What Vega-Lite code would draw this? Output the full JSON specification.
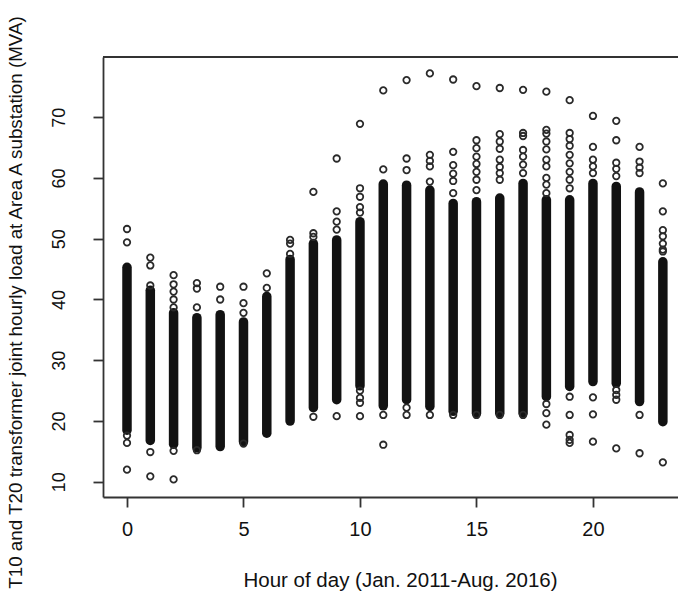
{
  "$schema": "https://vega.github.io/schema/vega-lite/v6.json",
  "autosize": "none",
  "width": 575,
  "height": 440,
  "padding": {"left": 103, "top": 57, "right": 0, "bottom": 104},
  "background": "white",
  "view": {"stroke": null},
  "config": {
    "font": "Liberation Sans",
    "axis": {"grid": false, "labelColor": "#111", "titleColor": "#111", "labelFont": "Liberation Sans", "titleFont": "Liberation Sans", "titleFontWeight": "normal", "domainColor": "#333", "domainWidth": 1.8, "tickColor": "#333", "tickWidth": 1.8}
  },
  "datasets": {
    "cores": [
      {"hour": 0, "lo": 18.5, "hi": 45.3},
      {"hour": 1, "lo": 16.8, "hi": 41.5},
      {"hour": 2, "lo": 16.2, "hi": 37.8},
      {"hour": 3, "lo": 15.6, "hi": 37.0},
      {"hour": 4, "lo": 15.8, "hi": 37.5},
      {"hour": 5, "lo": 16.6, "hi": 36.3},
      {"hour": 6, "lo": 18.0, "hi": 40.5},
      {"hour": 7, "lo": 20.0, "hi": 46.6},
      {"hour": 8, "lo": 22.2, "hi": 49.2},
      {"hour": 9, "lo": 23.5, "hi": 49.8},
      {"hour": 10, "lo": 25.8, "hi": 52.8},
      {"hour": 11, "lo": 22.5, "hi": 59.0},
      {"hour": 12, "lo": 23.5, "hi": 58.8},
      {"hour": 13, "lo": 22.4, "hi": 58.0},
      {"hour": 14, "lo": 21.6, "hi": 55.8},
      {"hour": 15, "lo": 21.3, "hi": 56.1},
      {"hour": 16, "lo": 21.3, "hi": 56.7},
      {"hour": 17, "lo": 21.3, "hi": 59.1},
      {"hour": 18, "lo": 24.0, "hi": 56.4},
      {"hour": 19, "lo": 25.7, "hi": 56.4},
      {"hour": 20, "lo": 26.5, "hi": 59.1},
      {"hour": 21, "lo": 26.2, "hi": 58.6},
      {"hour": 22, "lo": 23.2, "hi": 57.7},
      {"hour": 23, "lo": 19.9, "hi": 46.2}
    ],
    "pts": [
      {"hour": 0, "load": 51.6}, {"hour": 0, "load": 49.4}, {"hour": 0, "load": 17.6}, {"hour": 0, "load": 16.4}, {"hour": 0, "load": 12.0},
      {"hour": 1, "load": 46.9}, {"hour": 1, "load": 45.6}, {"hour": 1, "load": 42.3}, {"hour": 1, "load": 14.9}, {"hour": 1, "load": 10.9},
      {"hour": 2, "load": 44.0}, {"hour": 2, "load": 42.5}, {"hour": 2, "load": 41.3}, {"hour": 2, "load": 40.0}, {"hour": 2, "load": 38.7}, {"hour": 2, "load": 15.1}, {"hour": 2, "load": 10.4},
      {"hour": 3, "load": 42.7}, {"hour": 3, "load": 41.8}, {"hour": 3, "load": 38.7}, {"hour": 3, "load": 15.2},
      {"hour": 4, "load": 42.1}, {"hour": 4, "load": 40.0},
      {"hour": 5, "load": 42.1}, {"hour": 5, "load": 39.4}, {"hour": 5, "load": 37.8}, {"hour": 5, "load": 16.3},
      {"hour": 6, "load": 44.3}, {"hour": 6, "load": 41.9},
      {"hour": 7, "load": 49.8}, {"hour": 7, "load": 49.2}, {"hour": 7, "load": 47.5},
      {"hour": 8, "load": 57.7}, {"hour": 8, "load": 50.9}, {"hour": 8, "load": 50.3}, {"hour": 8, "load": 20.7},
      {"hour": 9, "load": 63.2}, {"hour": 9, "load": 54.5}, {"hour": 9, "load": 52.8}, {"hour": 9, "load": 51.5}, {"hour": 9, "load": 20.8},
      {"hour": 10, "load": 68.9}, {"hour": 10, "load": 58.3}, {"hour": 10, "load": 56.9}, {"hour": 10, "load": 55.2}, {"hour": 10, "load": 54.3}, {"hour": 10, "load": 25.0}, {"hour": 10, "load": 23.8}, {"hour": 10, "load": 23.0}, {"hour": 10, "load": 20.8},
      {"hour": 11, "load": 74.4}, {"hour": 11, "load": 61.4}, {"hour": 11, "load": 21.0}, {"hour": 11, "load": 16.1},
      {"hour": 12, "load": 76.1}, {"hour": 12, "load": 63.2}, {"hour": 12, "load": 61.3}, {"hour": 12, "load": 22.2}, {"hour": 12, "load": 21.0},
      {"hour": 13, "load": 77.2}, {"hour": 13, "load": 63.8}, {"hour": 13, "load": 62.8}, {"hour": 13, "load": 61.9}, {"hour": 13, "load": 59.4}, {"hour": 13, "load": 21.0},
      {"hour": 14, "load": 76.2}, {"hour": 14, "load": 64.3}, {"hour": 14, "load": 62.1}, {"hour": 14, "load": 60.7}, {"hour": 14, "load": 59.5}, {"hour": 14, "load": 57.5}, {"hour": 14, "load": 21.0},
      {"hour": 15, "load": 75.1}, {"hour": 15, "load": 66.2}, {"hour": 15, "load": 64.9}, {"hour": 15, "load": 63.5}, {"hour": 15, "load": 62.3}, {"hour": 15, "load": 61.0}, {"hour": 15, "load": 59.7}, {"hour": 15, "load": 58.0}, {"hour": 15, "load": 21.0},
      {"hour": 16, "load": 74.8}, {"hour": 16, "load": 67.2}, {"hour": 16, "load": 66.0}, {"hour": 16, "load": 64.8}, {"hour": 16, "load": 63.0}, {"hour": 16, "load": 61.8}, {"hour": 16, "load": 60.8}, {"hour": 16, "load": 59.7}, {"hour": 16, "load": 21.0},
      {"hour": 17, "load": 74.5}, {"hour": 17, "load": 67.4}, {"hour": 17, "load": 66.9}, {"hour": 17, "load": 64.6}, {"hour": 17, "load": 63.5}, {"hour": 17, "load": 62.2}, {"hour": 17, "load": 60.8}, {"hour": 17, "load": 21.0},
      {"hour": 18, "load": 74.2}, {"hour": 18, "load": 67.9}, {"hour": 18, "load": 67.3}, {"hour": 18, "load": 66.0}, {"hour": 18, "load": 64.7}, {"hour": 18, "load": 63.0}, {"hour": 18, "load": 61.9}, {"hour": 18, "load": 60.0}, {"hour": 18, "load": 58.9}, {"hour": 18, "load": 57.5}, {"hour": 18, "load": 22.8}, {"hour": 18, "load": 21.3}, {"hour": 18, "load": 19.4},
      {"hour": 19, "load": 72.8}, {"hour": 19, "load": 67.4}, {"hour": 19, "load": 66.4}, {"hour": 19, "load": 65.3}, {"hour": 19, "load": 63.8}, {"hour": 19, "load": 62.4}, {"hour": 19, "load": 61.0}, {"hour": 19, "load": 59.7}, {"hour": 19, "load": 58.3}, {"hour": 19, "load": 24.0}, {"hour": 19, "load": 21.0}, {"hour": 19, "load": 17.7}, {"hour": 19, "load": 16.9}, {"hour": 19, "load": 16.4},
      {"hour": 20, "load": 70.2}, {"hour": 20, "load": 65.1}, {"hour": 20, "load": 63.0}, {"hour": 20, "load": 61.9}, {"hour": 20, "load": 60.8}, {"hour": 20, "load": 23.9}, {"hour": 20, "load": 21.1}, {"hour": 20, "load": 16.6},
      {"hour": 21, "load": 69.4}, {"hour": 21, "load": 66.2}, {"hour": 21, "load": 62.5}, {"hour": 21, "load": 61.5}, {"hour": 21, "load": 60.3}, {"hour": 21, "load": 25.1}, {"hour": 21, "load": 24.3}, {"hour": 21, "load": 23.5}, {"hour": 21, "load": 15.5},
      {"hour": 22, "load": 65.1}, {"hour": 22, "load": 62.7}, {"hour": 22, "load": 61.7}, {"hour": 22, "load": 60.8}, {"hour": 22, "load": 21.0}, {"hour": 22, "load": 14.7},
      {"hour": 23, "load": 59.1}, {"hour": 23, "load": 54.5}, {"hour": 23, "load": 51.4}, {"hour": 23, "load": 50.4}, {"hour": 23, "load": 49.2}, {"hour": 23, "load": 48.2}, {"hour": 23, "load": 47.9}, {"hour": 23, "load": 13.2}
    ],
    "frame": [{"top": 79.9}]
  },
  "layer": [
    {
      "data": {"name": "cores"},
      "mark": {"type": "rule", "strokeWidth": 9.5, "strokeCap": "round", "color": "#121212"},
      "encoding": {
        "x": {"field": "hour", "type": "quantitative", "scale": {"domain": [-1.03, 23.65], "nice": false, "zero": false},
          "axis": {"values": [0, 5, 10, 15, 20], "title": "Hour of day (Jan. 2011-Aug. 2016)", "labelFontSize": 20, "titleFontSize": 20.5, "tickSize": 10, "labelPadding": 12, "titleX": 297, "titleY": 83, "titleBaseline": "middle", "titleAnchor": null, "titleAlign": "center", "domain": true}},
        "y": {"field": "lo", "type": "quantitative", "scale": {"domain": [7.5, 79.9], "nice": false, "zero": false},
          "axis": {"values": [10, 20, 30, 40, 50, 60, 70], "title": "T10 and T20 transformer joint hourly load at Area A substation (MVA)", "labelFontSize": 18, "titleFontSize": 18.8, "tickSize": 10, "labelPadding": 25, "labelAngle": 270, "labelAlign": "center", "labelBaseline": "bottom", "titleAngle": 270, "titleX": -88, "titleY": 245, "titleBaseline": "middle", "titleAlign": "center", "titleAnchor": null, "domain": true}},
        "y2": {"field": "hi"}
      }
    },
    {
      "data": {"name": "pts"},
      "mark": {"type": "point", "shape": "circle", "filled": false, "size": 42, "strokeWidth": 1.8, "color": "#2a2a2a", "opacity": 1},
      "encoding": {
        "x": {"field": "hour", "type": "quantitative"},
        "y": {"field": "load", "type": "quantitative"}
      }
    },
    {
      "data": {"name": "frame"},
      "mark": {"type": "rule", "strokeWidth": 1.8, "color": "#333"},
      "encoding": {
        "y": {"field": "top", "type": "quantitative"}
      }
    }
  ]
}
